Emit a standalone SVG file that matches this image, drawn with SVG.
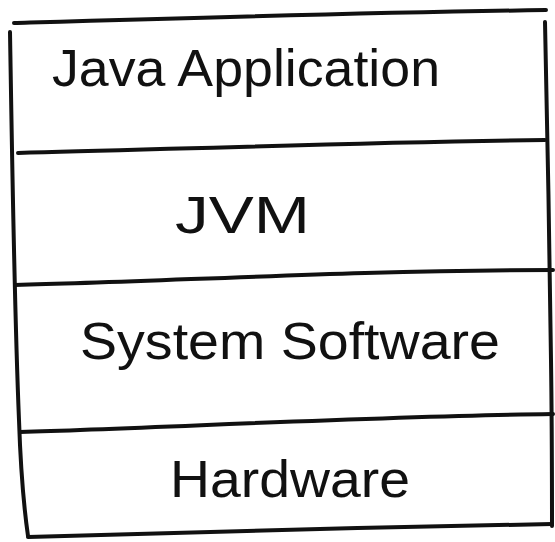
<svg xmlns="http://www.w3.org/2000/svg" width="555" height="542" viewBox="0 0 555 542">
  <style>
    .edge { fill: none; stroke: #111; stroke-width: 4; stroke-linecap: round; stroke-linejoin: round; }
    .label { font-family: "Liberation Sans", "DejaVu Sans", sans-serif; fill: #111; font-size: 52px; }
  </style>
  <rect width="555" height="542" fill="#fff"/>

  <!-- outer frame: hand-drawn sides -->
  <g id="frame">
    <path class="edge" d="M14,23 C150,19 350,13 546,10"/>
    <path class="edge" d="M10,32 C12,150 14,300 19,420 C21,480 25,515 28,536"/>
    <path class="edge" d="M545,22 C547,120 550,260 551,360 C552,430 552,490 552,526"/>
    <path class="edge" d="M28,537 C150,533 380,527 552,524"/>
  </g>

  <!-- layer dividers -->
  <g id="dividers">
    <path class="edge" d="M18,153 C150,150 330,143 545,140"/>
    <path class="edge" d="M15,285 C160,282 350,270 553,270"/>
    <path class="edge" d="M20,432 C160,428 380,416 553,414"/>
  </g>

  <g id="java-application">
    <text class="label" x="52" y="86" textLength="388" lengthAdjust="spacingAndGlyphs">Java Application</text>
  </g>
  <g id="jvm">
    <text class="label" x="175" y="233" textLength="135" lengthAdjust="spacingAndGlyphs">JVM</text>
  </g>
  <g id="system-software">
    <text class="label" x="80" y="359" textLength="420" lengthAdjust="spacingAndGlyphs">System Software</text>
  </g>
  <g id="hardware">
    <text class="label" x="170" y="497" textLength="240" lengthAdjust="spacingAndGlyphs">Hardware</text>
  </g>
</svg>
